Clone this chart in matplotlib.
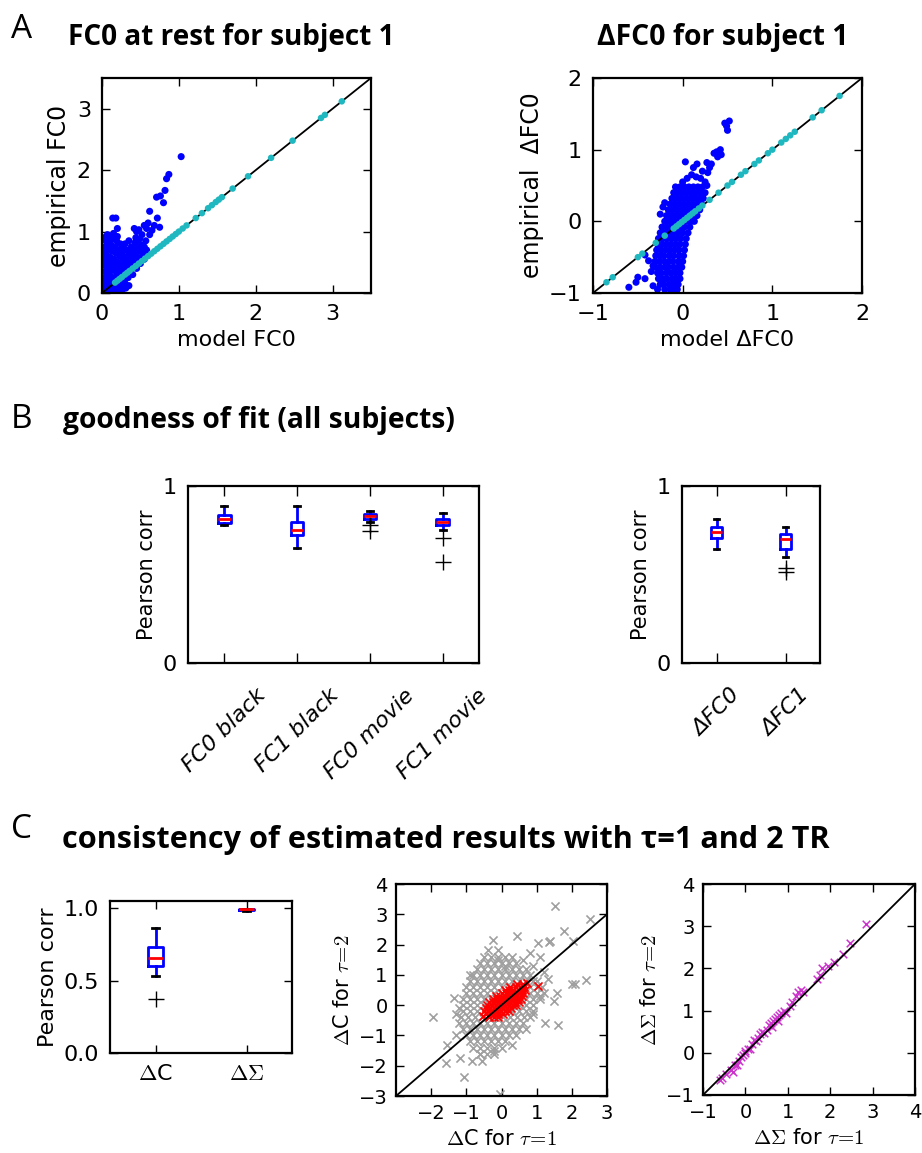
import numpy as np
import matplotlib.pyplot as plt

plt.rcParams['font.family'] = ['DejaVu Sans']
plt.rcParams['mathtext.fontset'] = 'cm'
plt.rcParams['xtick.direction'] = 'in'
plt.rcParams['ytick.direction'] = 'in'
plt.rcParams['xtick.top'] = True
plt.rcParams['ytick.right'] = True
plt.rcParams['xtick.major.size'] = 6
plt.rcParams['ytick.major.size'] = 6
plt.rcParams['xtick.major.width'] = 1
plt.rcParams['ytick.major.width'] = 1
plt.rcParams['xtick.major.pad'] = 8
plt.rcParams['ytick.major.pad'] = 8
plt.rcParams['axes.linewidth'] = 1.6

# --- panel A, left: FC0 at rest (model vs empirical)
fc0_blue = [
    (0.01, 0.01), (0.02, 0.05), (0.03, 0.15), (0.02, 0.25), (0.04, 0.35), (0.03, 0.45), (0.02, 0.55),
    (0.04, 0.65), (0.03, 0.75), (0.05, 0.85), (0.06, 0.02), (0.07, 0.12), (0.06, 0.22), (0.08, 0.32),
    (0.07, 0.42), (0.08, 0.52), (0.06, 0.62), (0.09, 0.72), (0.08, 0.82), (0.1, 0.92), (0.11, 0.05),
    (0.12, 0.18), (0.11, 0.28), (0.13, 0.38), (0.12, 0.48), (0.11, 0.58), (0.13, 0.68), (0.12, 0.78),
    (0.14, 0.88), (0.16, 0.02), (0.17, 0.1), (0.16, 0.25), (0.18, 0.35), (0.17, 0.45), (0.16, 0.55),
    (0.18, 0.65), (0.17, 0.75), (0.19, 0.85), (0.21, 0.06), (0.22, 0.14), (0.2, 0.3), (0.22, 0.4),
    (0.21, 0.5), (0.23, 0.6), (0.22, 0.7), (0.24, 0.8), (0.2, 0.92), (0.26, 0.04), (0.27, 0.12),
    (0.25, 0.25), (0.27, 0.35), (0.26, 0.45), (0.28, 0.55), (0.26, 0.65), (0.28, 0.72), (0.31, 0.08),
    (0.3, 0.3), (0.32, 0.4), (0.31, 0.5), (0.33, 0.6), (0.32, 0.7), (0.3, 0.8), (0.35, 0.12),
    (0.36, 0.35), (0.35, 0.45), (0.37, 0.55), (0.36, 0.65), (0.38, 0.75), (0.35, 0.85), (0.4, 0.3),
    (0.41, 0.42), (0.4, 0.52), (0.42, 0.62), (0.41, 0.72), (0.43, 0.82), (0.45, 0.4), (0.46, 0.5),
    (0.45, 0.6), (0.47, 0.7), (0.46, 0.8), (0.44, 0.9), (0.5, 0.48), (0.51, 0.58), (0.5, 0.68),
    (0.52, 0.78), (0.49, 0.88), (0.55, 0.55), (0.56, 0.65), (0.55, 0.75), (0.58, 0.7), (0.57, 0.85),
    (0.05, 0.08), (0.09, 0.15), (0.04, 0.1), (0.14, 0.1), (0.19, 0.2), (0.24, 0.2), (0.29, 0.2),
    (0.34, 0.25), (0.38, 0.4), (0.25, 0.02), (0.3, 0.15), (0.02, 0.9), (0.07, 0.95), (0.15, 0.97),
    (0.14, 1.22), (0.18, 1.22), (0.2, 1.05), (0.42, 1.05), (0.45, 1.0), (0.52, 0.95), (0.6, 1.14),
    (0.62, 1.33), (0.72, 1.22), (0.68, 1.1), (0.75, 1.07), (0.58, 1.05), (0.55, 1.1), (0.71, 1.56),
    (0.76, 1.58), (0.8, 1.47), (0.82, 1.67), (0.84, 1.86), (0.87, 1.93), (1.03, 2.22), (0.62, 0.95),
    (0.65, 1.02), (0.48, 1.03),
]
fc0_cyan = [0.17, 0.2, 0.23, 0.26, 0.3, 0.33, 0.36, 0.4, 0.44, 0.48, 0.52, 0.56, 0.6, 0.64, 0.68,
            0.72, 0.76, 0.8, 0.84, 0.88, 0.92, 0.96, 1.0, 1.05, 1.1, 1.22, 1.3, 1.38, 1.43, 1.48,
            1.52, 1.56, 1.7, 1.9, 2.2, 2.48, 2.85, 2.9, 3.12]

# --- panel A, right: delta FC0
dfc0_rows = [
    (-0.95, [-0.2, -0.14, -0.1, -0.06]),
    (-0.88, [-0.25, -0.21, -0.15, -0.1, -0.05]),
    (-0.8, [-0.27, -0.22, -0.18, -0.12, -0.07, -0.03]),
    (-0.72, [-0.28, -0.24, -0.18, -0.13, -0.08, -0.03]),
    (-0.64, [-0.3, -0.25, -0.2, -0.16, -0.1, -0.05, -0.01]),
    (-0.56, [-0.31, -0.26, -0.2, -0.15, -0.11, -0.05, 0.0]),
    (-0.48, [-0.3, -0.25, -0.21, -0.15, -0.1, -0.04, 0.01]),
    (-0.4, [-0.29, -0.24, -0.19, -0.14, -0.09, -0.04, 0.02]),
    (-0.32, [-0.28, -0.23, -0.18, -0.13, -0.08, -0.03, 0.03]),
    (-0.24, [-0.27, -0.22, -0.17, -0.12, -0.07, -0.02, 0.04]),
    (-0.16, [-0.25, -0.2, -0.15, -0.1, -0.05, 0.0, 0.06]),
    (-0.08, [-0.23, -0.18, -0.13, -0.08, -0.03, 0.02, 0.08]),
    (0.0, [-0.2, -0.15, -0.1, -0.05, 0.0, 0.05, 0.1, 0.13]),
    (0.08, [-0.18, -0.13, -0.08, -0.03, 0.02, 0.07, 0.12, 0.16]),
    (0.16, [-0.16, -0.11, -0.06, -0.01, 0.04, 0.09, 0.14, 0.19]),
    (0.24, [-0.14, -0.09, -0.04, 0.01, 0.06, 0.11, 0.16, 0.21]),
    (0.32, [-0.12, -0.07, -0.02, 0.03, 0.08, 0.13, 0.18, 0.23]),
    (0.4, [-0.1, -0.05, 0.0, 0.05, 0.1, 0.15, 0.2, 0.25]),
    (0.48, [-0.08, -0.03, 0.02, 0.07, 0.12, 0.17, 0.22]),
]
dfc0_extra = [
    (0.0, 0.55), (0.05, 0.6), (0.1, 0.65), (0.15, 0.62), (0.2, 0.6), (0.25, 0.55), (0.22, 0.7),
    (0.28, 0.68), (0.3, 0.75), (0.32, 0.8), (0.12, 0.75), (0.16, 0.8), (0.03, 0.83), (0.27, 0.82),
    (0.35, 0.95), (0.38, 0.97), (0.42, 1.0), (0.43, 0.93), (0.39, 0.9), (0.47, 1.37), (0.52, 1.4),
    (0.49, 1.33), (0.5, 1.27), (-0.2, 0.26), (-0.22, 0.2), (-0.6, -0.92), (-0.52, -0.85),
    (-0.5, -0.78), (-0.42, -0.8), (-0.42, -0.47), (-0.38, -0.55), (-0.33, -0.9), (-0.28, -0.95),
    (-0.35, -0.7), (-0.33, -0.62), (-0.12, -0.98), (-0.25, 0.1), (0.27, 0.5),
]
dfc0_cyan = [-0.85, -0.78, -0.5, -0.45, -0.3, -0.2, -0.1, -0.07, -0.04, -0.01, 0.02, 0.05, 0.08,
             0.11, 0.14, 0.18, 0.22, 0.3, 0.4, 0.5, 0.55, 0.65, 0.7, 0.8, 0.85, 0.95, 1.0, 1.1,
             1.15, 1.2, 1.25, 1.45, 1.55, 1.75]

# --- panel B: goodness of fit boxplots
fit_labels = ['FC0 black', 'FC1 black', 'FC0 movie', 'FC1 movie']
fit_med = [0.815, 0.751, 0.832, 0.798]
fit_q1 = [0.793, 0.725, 0.812, 0.778]
fit_q3 = [0.836, 0.797, 0.844, 0.813]
fit_lo = [0.778, 0.652, 0.798, 0.751]
fit_hi = [0.887, 0.885, 0.859, 0.846]
fit_fliers = [[], [], [0.778, 0.746], [0.708, 0.572]]

dfit_labels = ['ΔFC0', 'ΔFC1']
dfit_med = [0.742, 0.703]
dfit_q1 = [0.706, 0.644]
dfit_q3 = [0.770, 0.729]
dfit_lo = [0.644, 0.601]
dfit_hi = [0.811, 0.770]
dfit_fliers = [[], [0.535, 0.512]]

# --- panel C: consistency tau=1 vs tau=2
cons_labels = [r'$\Delta$C', r'$\Delta\Sigma$']
cons_med = [0.655, 0.992]
cons_q1 = [0.602, 0.988]
cons_q3 = [0.733, 0.995]
cons_lo = [0.529, 0.984]
cons_hi = [0.864, 0.998]
cons_fliers = [[0.370], []]

dc_gray_rows = [
    (1.6, [-0.3, -0.1, 0.1, 0.3]),
    (1.4, [-0.6, -0.4, -0.2, 0.0, 0.2, 0.4]),
    (1.2, [-0.7, -0.5, -0.3, -0.1, 0.1, 0.3, 0.5, 0.7]),
    (1.0, [-0.8, -0.6, -0.4, -0.2, 0.0, 0.2, 0.4, 0.6, 0.8]),
    (0.8, [-0.9, -0.7, -0.5, -0.3, -0.1, 0.1, 0.3, 0.5, 0.7, 0.9, 1.0]),
    (0.6, [-1.0, -0.8, -0.6, -0.4, -0.2, 0.0, 0.2, 0.4, 0.6, 0.8, 1.0, 1.15]),
    (0.4, [-1.0, -0.8, -0.6, -0.4, -0.2, 0.0, 0.2, 0.4, 0.6, 0.8, 1.0, 1.2]),
    (0.2, [-1.1, -0.9, -0.7, -0.5, -0.3, -0.1, 0.1, 0.3, 0.5, 0.7, 0.9, 1.1]),
    (0.0, [-1.1, -0.9, -0.7, -0.5, -0.3, -0.1, 0.1, 0.3, 0.5, 0.7, 0.9]),
    (-0.2, [-1.1, -0.9, -0.7, -0.5, -0.3, -0.1, 0.1, 0.3, 0.5, 0.7, 0.9]),
    (-0.4, [-1.15, -0.95, -0.75, -0.55, -0.35, -0.15, 0.05, 0.25, 0.45, 0.65, 0.8]),
    (-0.6, [-1.2, -1.0, -0.8, -0.6, -0.4, -0.2, 0.0, 0.2, 0.4, 0.6]),
    (-0.8, [-1.1, -0.9, -0.7, -0.5, -0.3, -0.1, 0.1, 0.3, 0.5]),
    (-1.0, [-1.0, -0.8, -0.6, -0.4, -0.2, 0.0, 0.2]),
    (-1.2, [-0.9, -0.7, -0.5, -0.3, -0.1, 0.1]),
    (-1.4, [-0.8, -0.6, -0.4, -0.2, 0.0]),
    (-1.6, [-0.6, -0.4, -0.2]),
]
dc_gray_extra = [
    (1.53, 3.27), (2.53, 2.83), (1.77, 2.45), (1.39, 2.13), (1.35, 2.08), (1.03, 2.04), (-0.25, 2.16),
    (0.44, 2.27), (-0.37, 1.83), (-0.09, 1.81), (2.03, 2.13), (0.82, 1.72), (2.39, 0.82), (2.01, 0.71),
    (2.08, 0.7), (1.31, 0.87), (1.58, 0.4), (1.48, 0.15), (1.25, -0.6), (1.6, -0.64), (-1.94, -0.4),
    (-1.35, 0.24), (-1.08, -2.38), (-0.04, -2.93), (-1.57, -1.9), (-0.85, -1.83), (-0.56, -1.86),
    (-1.18, -1.75), (-1.56, -1.3), (-1.3, -1.0), (0.6, 1.5), (0.9, 1.3), (1.2, 1.1), (-1.3, -0.3),
    (-0.9, 1.0), (0.3, -1.3), (0.7, -0.8), (-0.6, -1.6), (1.1, 1.6), (-0.5, 1.6),
    (-0.1, 1.5), (0.1, 1.3), (-0.2, -1.5), (0.4, -1.0), (0.9, -0.3), (1.1, 0.3), (-1.2, -0.1),
]
dc_red_rows = [
    (0.7, [0.45, 0.6]),
    (0.6, [0.25, 0.4, 0.55, 0.65]),
    (0.5, [0.1, 0.22, 0.34, 0.46, 0.58, 0.66]),
    (0.4, [0.0, 0.12, 0.24, 0.36, 0.48, 0.6]),
    (0.3, [-0.15, -0.03, 0.09, 0.21, 0.33, 0.45, 0.57]),
    (0.2, [-0.25, -0.13, -0.01, 0.11, 0.23, 0.35, 0.47, 0.55]),
    (0.1, [-0.35, -0.23, -0.11, 0.01, 0.13, 0.25, 0.37, 0.5]),
    (0.0, [-0.4, -0.28, -0.16, -0.04, 0.08, 0.2, 0.32, 0.4]),
    (-0.1, [-0.45, -0.33, -0.21, -0.09, 0.03, 0.15, 0.28]),
    (-0.2, [-0.5, -0.38, -0.26, -0.14, -0.02, 0.1, 0.2]),
    (-0.3, [-0.45, -0.33, -0.21, -0.09, 0.03]),
    (-0.4, [-0.35, -0.22, -0.1]),
]
dc_red_extra = [(1.03, 0.63), (0.72, 0.72), (-0.52, -0.35)]

ds_pts = [
    (-0.6, -0.65), (-0.55, -0.6), (-0.45, -0.5), (-0.35, -0.4), (-0.3, -0.45), (-0.25, -0.3),
    (-0.2, -0.3), (-0.15, -0.2), (-0.1, -0.1), (-0.05, -0.05), (0.0, 0.0), (0.0, 0.05), (0.05, 0.1),
    (0.1, 0.1), (0.15, 0.2), (0.2, 0.3), (0.25, 0.28), (0.3, 0.35), (0.35, 0.45), (0.4, 0.5),
    (0.45, 0.48), (0.5, 0.55), (0.55, 0.65), (0.6, 0.7), (0.62, 0.62), (0.65, 0.75), (0.7, 0.8),
    (0.75, 0.85), (0.78, 0.75), (0.8, 0.9), (0.85, 0.95), (0.9, 1.0), (0.95, 0.95), (1.05, 1.1),
    (1.1, 1.2), (1.2, 1.35), (1.25, 1.45), (1.3, 1.5), (1.35, 1.45), (1.7, 1.75), (1.75, 1.85),
    (1.8, 2.0), (1.95, 2.05), (2.1, 2.15), (2.3, 2.35), (2.46, 2.61), (2.85, 3.06),
]


def box(l, t, r, b):
    return [l / 922, 1 - b / 1153, (r - l) / 922, (b - t) / 1153]


def stats(labels, med, q1, q3, lo, hi, fl):
    return [dict(label=labels[i], med=med[i], q1=q1[i], q3=q3[i], whislo=lo[i],
                 whishi=hi[i], fliers=fl[i]) for i in range(len(labels))]


def draw_box(ax, st, width):
    ax.bxp(st, widths=width, showfliers=True,
           boxprops=dict(color='blue', linewidth=2),
           whiskerprops=dict(color='blue', linewidth=2, linestyle='-'),
           capprops=dict(color='black', linewidth=2),
           medianprops=dict(color='red', linewidth=2),
           flierprops=dict(marker='+', markeredgecolor='black', markersize=11, markeredgewidth=1))


fig = plt.figure(figsize=(9.22, 11.53), dpi=100)

# A left
ax = fig.add_axes(box(102, 78, 371, 293))
bx, by = zip(*fc0_blue)
ax.scatter(bx, by, s=26, color='blue', edgecolors='none', zorder=2)
ax.plot([0, 3.5], [0, 3.5], color='black', linewidth=1.3, zorder=3)
ax.scatter(fc0_cyan, fc0_cyan, s=22, color='#20b8c0', edgecolors='none', zorder=4)
ax.set_xlim(0, 3.5)
ax.set_ylim(0, 3.5)
ax.set_xticks([0, 1, 2, 3])
ax.set_yticks([0, 1, 2, 3])
ax.tick_params(labelsize=16)
ax.set_xlabel('model FC0', fontsize=16)
ax.set_ylabel('empirical FC0', fontsize=17)

# A right
ax = fig.add_axes(box(593, 78, 862, 293))
pts = [(x, y) for y, xs in dfc0_rows for x in xs] + dfc0_extra
bx, by = zip(*pts)
ax.scatter(bx, by, s=26, color='blue', edgecolors='none', zorder=2)
ax.plot([-1, 2], [-1, 2], color='black', linewidth=1.3, zorder=3)
ax.scatter(dfc0_cyan, dfc0_cyan, s=22, color='#20b8c0', edgecolors='none', zorder=4)
ax.set_xlim(-1, 2)
ax.set_ylim(-1, 2)
ax.set_xticks([-1, 0, 1, 2])
ax.set_yticks([-1, 0, 1, 2])
ax.tick_params(labelsize=16)
ax.set_xlabel('model ΔFC0', fontsize=16)
ax.set_ylabel('empirical  ΔFC0', fontsize=17)

# B left
ax = fig.add_axes(box(188, 486, 479, 663))
draw_box(ax, stats(fit_labels, fit_med, fit_q1, fit_q3, fit_lo, fit_hi, fit_fliers), 0.17)
ax.set_xlim(0.5, 4.5)
ax.set_ylim(0, 1)
ax.set_yticks([0, 1])
ax.tick_params(labelsize=16)
ax.tick_params(axis='x', length=7, pad=16)
for t in ax.get_xticklabels():
    t.set_rotation(45)
    t.set_style('italic')
ax.set_ylabel('Pearson corr', fontsize=15)

# B right
ax = fig.add_axes(box(682, 486, 820, 663))
draw_box(ax, stats(dfit_labels, dfit_med, dfit_q1, dfit_q3, dfit_lo, dfit_hi, dfit_fliers), 0.17)
ax.set_xlim(0.5, 2.5)
ax.set_ylim(0, 1)
ax.set_yticks([0, 1])
ax.tick_params(labelsize=16)
ax.tick_params(axis='x', length=7, pad=16)
for t in ax.get_xticklabels():
    t.set_rotation(45)
    t.set_style('italic')
ax.set_ylabel('Pearson corr', fontsize=15)

# C left
ax = fig.add_axes(box(110, 901, 292, 1053))
draw_box(ax, stats(cons_labels, cons_med, cons_q1, cons_q3, cons_lo, cons_hi, cons_fliers), 0.165)
ax.set_xlim(0.5, 2.5)
ax.set_ylim(0, 1.05)
ax.set_yticks([0, 0.5, 1.0])
ax.set_yticklabels(['0.0', '0.5', '1.0'])
ax.tick_params(labelsize=16)
ax.set_ylabel('Pearson corr', fontsize=16)

# C middle
ax = fig.add_axes(box(396, 884, 607, 1096))
pts = [(x, y) for y, xs in dc_gray_rows for x in xs] + dc_gray_extra
gx, gy = zip(*pts)
ax.scatter(gx, gy, s=34, marker='x', color='#a0a0a0', linewidths=1.2, zorder=2)
pts = [(x, y) for y, xs in dc_red_rows for x in xs] + dc_red_extra
rx, ry = zip(*pts)
ax.scatter(rx, ry, s=34, marker='x', color='red', linewidths=1.2, zorder=3)
ax.plot([-3, 3], [-3, 3], color='black', linewidth=1.3, zorder=4)
ax.set_xlim(-3, 3)
ax.set_ylim(-3, 4)
ax.set_xticks([-2, -1, 0, 1, 2, 3])
ax.set_yticks([-3, -2, -1, 0, 1, 2, 3, 4])
ax.tick_params(labelsize=14, pad=6)
ax.set_xlabel(r'$\Delta$C for $\tau\!=\!1$', fontsize=15)
ax.set_ylabel(r'$\Delta$C for $\tau\!=\!2$', fontsize=15)

# C right
ax = fig.add_axes(box(703, 884, 915, 1095))
sx, sy = zip(*ds_pts)
ax.scatter(sx, sy, s=30, marker='x', color='#cc33cc', linewidths=1.1, zorder=2)
ax.plot([-1, 4], [-1, 4], color='black', linewidth=1.3, zorder=3)
ax.set_xlim(-1, 4)
ax.set_ylim(-1, 4)
ax.set_xticks([-1, 0, 1, 2, 3, 4])
ax.set_yticks([-1, 0, 1, 2, 3, 4])
ax.tick_params(labelsize=14, pad=6)
ax.set_xlabel(r'$\Delta\Sigma$ for $\tau\!=\!1$', fontsize=15)
ax.set_ylabel(r'$\Delta\Sigma$ for $\tau\!=\!2$', fontsize=15)

# titles and panel letters
def ftext(px, py, s, width=None, **kw):
    t = fig.text(px / 922, 1 - py / 1153, s, va='baseline', ha='left', **kw)
    if width is not None:
        fig.canvas.draw()
        w = t.get_window_extent().width
        t.set_fontsize(t.get_fontsize() * width / w)
    return t

for letter, py in [('A', 38), ('B', 428), ('C', 838)]:
    ftext(11, py, letter, family='Open Sans', fontsize=24)
ftext(68, 45, 'FC0 at rest for subject 1', width=327, family='Open Sans', fontweight='bold', fontsize=17)
ftext(597, 45, 'ΔFC0 for subject 1', width=251, family='Open Sans', fontweight='bold', fontsize=17)
ftext(63, 428, 'goodness of fit (all subjects)', width=392, family='Open Sans', fontweight='bold', fontsize=17)
ftext(62, 848, 'consistency of estimated results with τ=1 and 2 TR', width=768,
      family='Open Sans', fontweight='bold', fontsize=17)

fig.savefig('out.png', dpi=100)
